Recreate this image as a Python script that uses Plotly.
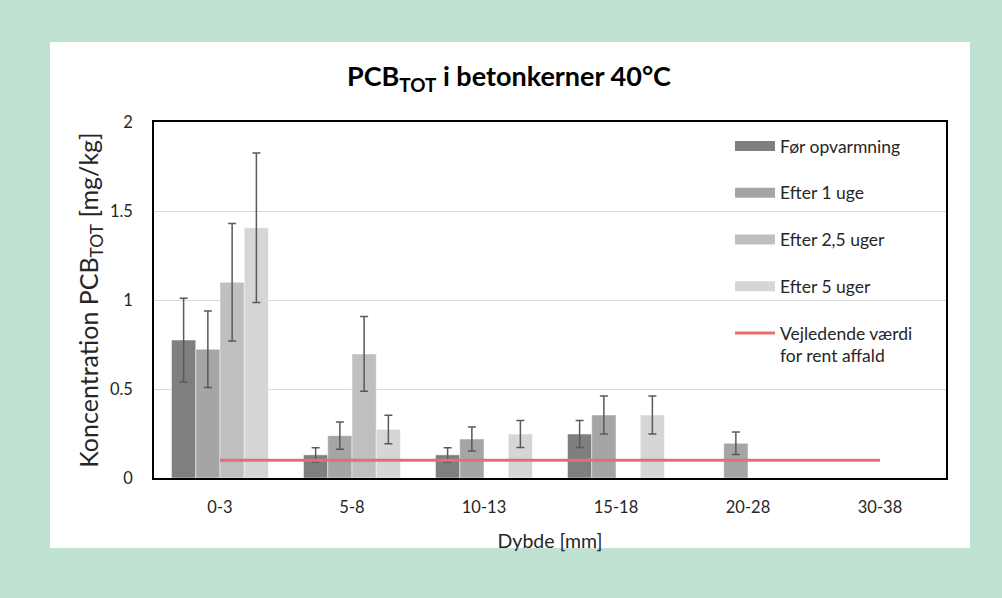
import plotly.graph_objects as go

categories = ["0-3", "5-8", "10-13", "15-18", "20-28", "30-38"]

foer = [0.775, 0.13, 0.13, 0.247, None, None]
foer_err = [0.235, 0.04, 0.04, 0.076, None, None]

uge1 = [0.723, 0.238, 0.219, 0.354, 0.195, None]
uge1_err = [0.215, 0.077, 0.068, 0.107, 0.063, None]

uge25 = [1.10, 0.697, None, None, None, None]
uge25_err = [0.33, 0.21, None, None, None, None]

uge5 = [1.406, 0.273, 0.247, 0.354, None, None]
uge5_err = [0.42, 0.08, 0.076, 0.107, None, None]

limit = [0.1, 0.1, 0.1, 0.1, 0.1, 0.1]

series_names = ["Før opvarmning", "Efter 1 uge", "Efter 2,5 uger", "Efter 5 uger"]
series_colors = ["#7f7f7f", "#a5a5a5", "#bfbfbf", "#d6d6d6"]
limit_name = "Vejledende værdi<br>for rent affald"
limit_color = "#e46f6f"

FONT = "Lato, 'Open Sans', sans-serif"

fig = go.Figure()

for name, vals, errs, col in zip(series_names, [foer, uge1, uge25, uge5],
                                  [foer_err, uge1_err, uge25_err, uge5_err], series_colors):
    fig.add_trace(go.Bar(
        x=categories, y=vals, name=name, showlegend=False, legendgroup=name,
        marker=dict(color=col, line=dict(color="rgba(255,255,255,0.6)", width=0.8)),
        error_y=dict(type="data", array=errs, visible=True, color="#595959",
                     thickness=1.5, width=4),
    ))
    # legend entry drawn as a wide swatch like the original
    fig.add_trace(go.Scatter(
        x=[None], y=[None], mode="lines", name=name,
        line=dict(color=col, width=10), legendgroup=name,
    ))

fig.add_trace(go.Scatter(
    x=categories, y=limit, mode="lines", name=limit_name,
    line=dict(color=limit_color, width=3), legendgroup="limit",
))

L, R, T, B = 154, 56, 122, 120
W, H = 1002, 598
pw, ph = W - L - R, H - T - B

def px_x(x):
    return (x - L) / pw

def px_y(y):
    return (H - B - y) / ph

fig.add_shape(type="rect", xref="paper", yref="paper",
              x0=px_x(50), x1=px_x(970), y0=px_y(548), y1=px_y(42),
              fillcolor="white", line=dict(width=0), layer="below")

fig.update_layout(
    width=W, height=H,
    margin=dict(l=L, r=R, t=T, b=B, autoexpand=False),
    paper_bgcolor="#c0e2d3",
    plot_bgcolor="white",
    barmode="group", bargap=0.265, bargroupgap=0,
    font=dict(family=FONT, size=16, color="#262626"),
    title=dict(text="<b>PCB<sub>TOT</sub> i betonkerner 40°C</b>",
               font=dict(family=FONT, size=27, color="black"),
               x=509 / W, xref="container", xanchor="center",
               y=1 - 77 / H, yref="container", yanchor="middle"),
    legend=dict(x=px_x(730), y=px_y(128), xanchor="left", yanchor="top",
                bgcolor="rgba(0,0,0,0)", font=dict(family=FONT, size=17.5, color="#262626"),
                itemwidth=40, tracegroupgap=21, traceorder="grouped", valign="top"),
    xaxis=dict(showline=True, linecolor="black", linewidth=2, mirror=True,
               showgrid=False, ticks="", ticklabelstandoff=13,
               tickfont=dict(size=16.5),
               title=dict(text="Dybde [mm]", font=dict(size=19.5), standoff=19)),
    yaxis=dict(range=[0, 2], dtick=0.5, showline=True, linecolor="black", linewidth=1.5,
               mirror=True, showgrid=True, gridcolor="#d9d9d9", gridwidth=1,
               zeroline=False, ticks="", ticklabelstandoff=16,
               tickfont=dict(size=16.5),
               title=dict(text="Koncentration PCB<sub>TOT</sub> [mg/kg]",
                          font=dict(size=25), standoff=4)),
)

fig.write_html("out.html")
